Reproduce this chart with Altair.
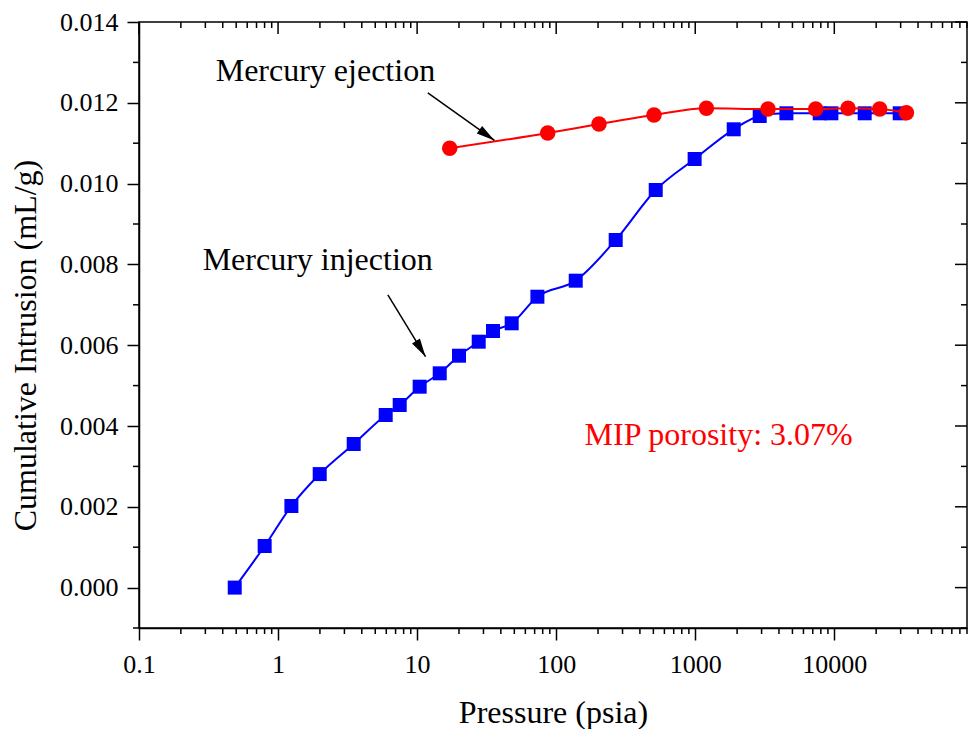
import altair as alt
import pandas as pd

# ---------------- data ----------------
injection_pressure = [0.488, 0.801, 1.247, 1.993, 3.499, 5.943, 7.494, 10.43, 14.54, 20.01,
                      27.73, 35.13, 47.87, 73.27, 138.2, 267.9, 519.8, 990.0, 1891, 2908,
                      4524, 7852, 9530, 16540, 29530]
injection_volume = [0.0, 0.00103, 0.00202, 0.00281, 0.003554, 0.004272, 0.00452, 0.004973,
                    0.005304, 0.00574, 0.006087, 0.006351, 0.006542, 0.0072, 0.007597,
                    0.008604, 0.009842, 0.010609, 0.011344, 0.011673, 0.01174, 0.01174,
                    0.01174, 0.01174, 0.01174]

ejection_pressure = [17.15, 86.9, 203.2, 505.3, 1203, 3336, 7349, 12550, 21210, 33000]
ejection_volume = [0.010874, 0.011252, 0.011475, 0.011698, 0.011864, 0.011847, 0.011847,
                   0.011864, 0.011847, 0.011755]

x_major_ticks = [0.1, 1, 10, 100, 1000, 10000]
x_minor_ticks = [m * d for d in [0.1, 1, 10, 100, 1000, 10000] for m in range(2, 10)
                 if m * d <= 90000]
y_major_ticks = [0.0, 0.002, 0.004, 0.006, 0.008, 0.010, 0.012, 0.014]
y_minor_ticks = [-0.001, 0.001, 0.003, 0.005, 0.007, 0.009, 0.011, 0.013]

label_text = ["Mercury ejection", "Mercury injection"]
label_pressure = [0.356, 0.2868]
label_volume = [0.01253, 0.007864]

porosity_text = ["MIP porosity: 3.07%"]
porosity_pressure = [159.9]
porosity_volume = [0.003527]

arrow_start_pressure = [11.94, 6.16]
arrow_start_volume = [0.012243, 0.007244]
arrow_tip_pressure = [36.0, 11.5]
arrow_tip_volume = [0.011068, 0.005715]
arrow_angle = [125.4, 148.6]

# ---------------- layout / style ----------------
W, H = 828, 606
FONT = "'Liberation Serif', 'Times New Roman', Times, serif"

xscale = alt.Scale(type="log", domain=[0.1, 90000], nice=False)
yscale = alt.Scale(domain=[-0.001, 0.014], nice=False, zero=False)

x_axis = alt.Axis(values=x_major_ticks, format="~g", title="Pressure (psia)",
                  titleFont=FONT, titleFontSize=32, titleFontWeight="normal",
                  titleColor="black", titleY=94, titleBaseline="alphabetic",
                  labelFont=FONT, labelFontSize=26, labelColor="black", labelPadding=11,
                  tickSize=12, tickWidth=1.5, tickColor="black",
                  domainColor="black", domainWidth=1.5, grid=False, labelFlush=False)
y_axis = alt.Axis(values=y_major_ticks, format=".3f",
                  title="Cumulative Intrusion (mL/g)",
                  titleFont=FONT, titleFontSize=32, titleFontWeight="normal",
                  titleColor="black", titleX=-104, titleY=323, titleBaseline="alphabetic",
                  titleAnchor="middle",
                  labelFont=FONT, labelFontSize=26, labelColor="black", labelPadding=9,
                  tickSize=12, tickWidth=1.5, tickColor="black",
                  domainColor="black", domainWidth=1.5, grid=False, labelFlush=False)


def X(f):
    return alt.X(f"{f}:Q", scale=xscale, axis=x_axis)


def Y(f):
    return alt.Y(f"{f}:Q", scale=yscale, axis=y_axis)


inj = pd.DataFrame({"p": injection_pressure, "v": injection_volume})
ej = pd.DataFrame({"p": ejection_pressure, "v": ejection_volume})

inj_line = alt.Chart(inj).mark_line(color="#0000FF", strokeWidth=2, interpolate="monotone").encode(
    x=X("p"), y=Y("v"))
inj_pts = alt.Chart(inj).mark_point(shape="square", filled=True, color="#0000FF", size=196,
                                     opacity=1).encode(x=X("p"), y=Y("v"))
ej_line = alt.Chart(ej).mark_line(color="#FF0000", strokeWidth=2, interpolate="monotone").encode(
    x=X("p"), y=Y("v"))
ej_pts = alt.Chart(ej).mark_point(shape="circle", filled=True, color="#FF0000", size=240,
                                   opacity=1).encode(x=X("p"), y=Y("v"))

# ticks: minor outward on bottom/left; major+minor inward on top/right
xmaj = pd.DataFrame({"t": x_major_ticks})
xmin = pd.DataFrame({"t": x_minor_ticks})
ymaj = pd.DataFrame({"t": y_major_ticks})
ymin = pd.DataFrame({"t": y_minor_ticks})
tick_style = dict(color="black", strokeWidth=1.5)

bottom_minor = alt.Chart(xmin).mark_rule(**tick_style).encode(
    x=X("t"), y=alt.value(H), y2=alt.value(H + 6))
top_minor = alt.Chart(xmin).mark_rule(**tick_style).encode(
    x=X("t"), y=alt.value(0), y2=alt.value(6))
top_major = alt.Chart(xmaj).mark_rule(**tick_style).encode(
    x=X("t"), y=alt.value(0), y2=alt.value(12))
left_minor = alt.Chart(ymin).mark_rule(**tick_style).encode(
    y=Y("t"), x=alt.value(0), x2=alt.value(-6))
right_minor = alt.Chart(ymin).mark_rule(**tick_style).encode(
    y=Y("t"), x=alt.value(W), x2=alt.value(W - 6))
right_major = alt.Chart(ymaj).mark_rule(**tick_style).encode(
    y=Y("t"), x=alt.value(W), x2=alt.value(W - 12))

# annotations
labels = pd.DataFrame({"p": label_pressure, "v": label_volume, "txt": label_text})
label_marks = alt.Chart(labels).mark_text(align="left", baseline="alphabetic", font=FONT,
                                          fontSize=32, color="black").encode(
    x=X("p"), y=Y("v"), text="txt:N")
por = pd.DataFrame({"p": porosity_pressure, "v": porosity_volume, "txt": porosity_text})
por_mark = alt.Chart(por).mark_text(align="left", baseline="alphabetic", font=FONT,
                                    fontSize=32, color="#FF0000").encode(
    x=X("p"), y=Y("v"), text="txt:N")

arrows = pd.DataFrame({"p0": arrow_start_pressure, "v0": arrow_start_volume,
                       "p1": arrow_tip_pressure, "v1": arrow_tip_volume, "ang": arrow_angle})
arrow_lines = alt.Chart(arrows).mark_rule(color="black", strokeWidth=1.5).encode(
    x=X("p0"), y=Y("v0"), x2="p1:Q", y2="v1:Q")
arrow_heads = alt.Chart(arrows).mark_point(
    shape="M0,0 L0.5,2 L-0.5,2 Z", filled=True, color="black", size=340, opacity=1
).encode(x=X("p1"), y=Y("v1"), angle=alt.Angle("ang:Q", scale=None))

chart = alt.layer(
    bottom_minor, top_minor, top_major, left_minor, right_minor, right_major,
    inj_line, inj_pts, ej_line, ej_pts,
    label_marks, por_mark, arrow_lines, arrow_heads,
).properties(
    width=W, height=H,
    autosize=alt.AutoSizeParams(type="none"),
    padding={"left": 139, "top": 22, "right": 11, "bottom": 101},
    background="white",
).configure_view(stroke="black", strokeWidth=1.5)

chart.save("out.html", embed_options={"renderer": "svg", "actions": False})
